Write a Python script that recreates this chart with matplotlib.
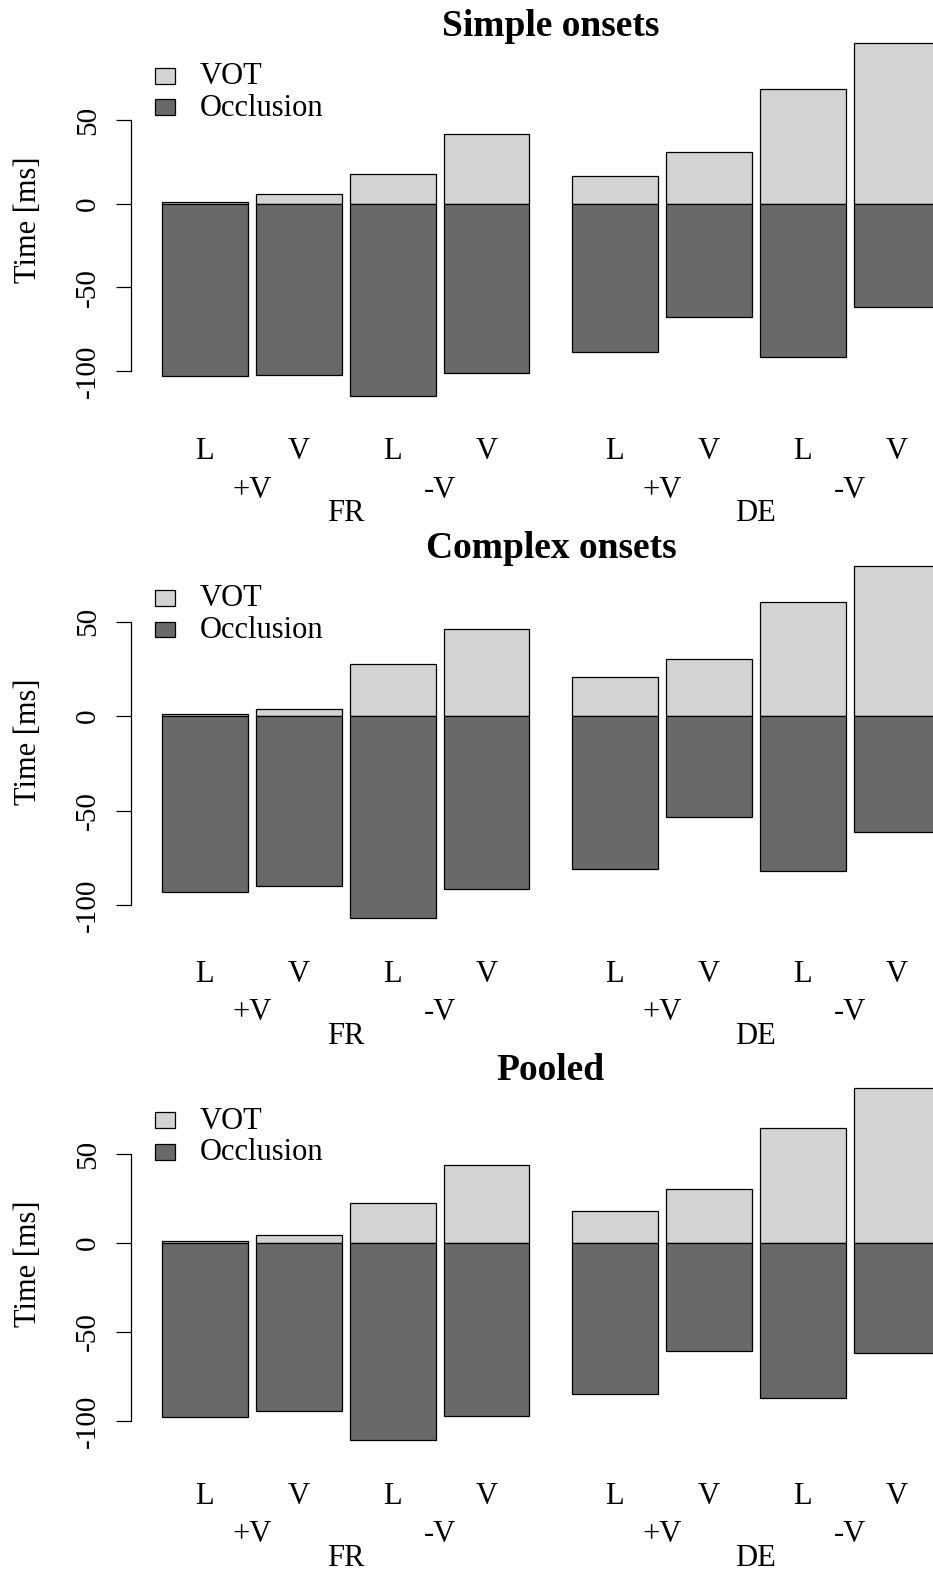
import matplotlib.pyplot as plt
import matplotlib.transforms as mtransforms
from matplotlib.patches import Rectangle

plt.rcParams["font.family"] = ["Liberation Serif", "DejaVu Serif"]

# values (ms)
titles = ["Simple onsets", "Complex onsets", "Pooled"]
bar_labels = ["L", "V", "L", "V", "L", "V", "L", "V"]
voicing_labels = ["+V", "-V", "+V", "-V"]
language_labels = ["FR", "DE"]

vot_simple = [1.0, 5.6, 17.9, 41.7, 16.4, 30.7, 68.4, 95.9]
occ_simple = [-103.0, -102.4, -114.9, -101.4, -88.8, -67.7, -91.6, -61.9]
vot_complex = [1.2, 3.7, 27.9, 46.4, 20.5, 30.4, 60.7, 79.8]
occ_complex = [-93.3, -89.8, -106.9, -91.5, -80.9, -53.5, -81.8, -61.5]
vot_pooled = [1.0, 4.7, 22.7, 44.1, 18.2, 30.6, 64.7, 87.4]
occ_pooled = [-97.9, -94.7, -110.9, -97.0, -84.8, -60.8, -87.1, -61.7]

panels = [(vot_simple, occ_simple), (vot_complex, occ_complex), (vot_pooled, occ_pooled)]

# bar layout like R barplot(space=c(0.1, 0.1, 0.1, 0.1, 0.5, 0.1, 0.1, 0.1))
spaces = [0.1, 0.1, 0.1, 0.1, 0.5, 0.1, 0.1, 0.1]
lefts = []
pos = 0.0
for s in spaces:
    pos += s
    lefts.append(pos)
    pos += 1.0
centers = [l + 0.5 for l in lefts]

W, H = 933, 1570
PANEL = 522.2
TOP, BOT = 29.2, 410.0
X0, X1 = 131.0, 970.7

VOT_COL = "#D3D3D3"
OCC_COL = "#696969"
FS = 22
TICK_FS = 21

fig = plt.figure(figsize=(W / 100, H / 100), dpi=100)

for k, (vot, occ) in enumerate(panels):
    top = k * PANEL + TOP
    bot = k * PANEL + BOT
    ax = fig.add_axes([X0 / W, 1 - bot / H, (X1 - X0) / W, (bot - top) / H])

    ax.bar(centers, vot, width=1.0, color=VOT_COL, edgecolor="black", linewidth=0.9)
    ax.bar(centers, occ, width=1.0, color=OCC_COL, edgecolor="black", linewidth=0.9)

    lo, hi = min(occ), max(vot)
    pad = 0.04 * (hi - lo)
    ax.set_ylim(lo - pad, hi + pad)
    xpad = 0.04 * (lefts[-1] + 1 - lefts[0])
    ax.set_xlim(lefts[0] - xpad, lefts[-1] + 1 + xpad)

    for side in ["top", "right", "bottom"]:
        ax.spines[side].set_visible(False)
    ax.spines["left"].set_bounds(-100, 50)
    ax.spines["left"].set_linewidth(0.9)
    ax.set_xticks([])
    ax.set_yticks([-100, -50, 0, 50])
    ax.set_yticklabels(["-100", "-50", "0", "50"])
    ax.tick_params(axis="y", length=15 / 100 * 72, width=0.9, pad=11, labelsize=TICK_FS)
    for lab in ax.get_yticklabels():
        lab.set_rotation(90)
        lab.set_va("center")

    h = bot - top

    def ay(px):
        return (BOT - px) / h

    ax.text(0.5, ay(36), titles[k], transform=ax.transAxes, ha="center",
            va="baseline", fontsize=27, fontweight="bold")

    ax.set_ylabel("Time [ms]", fontsize=FS, va="center")
    ax.yaxis.set_label_coords((28 - X0) / (X1 - X0), 0.5)

    tr = mtransforms.blended_transform_factory(ax.transData, ax.transAxes)
    for c, lab in zip(centers, bar_labels):
        ax.text(c, ay(459.3), lab, transform=tr, ha="center", va="baseline", fontsize=FS)
    for i, lab in enumerate(voicing_labels):
        c = (centers[2 * i] + centers[2 * i + 1]) / 2
        ax.text(c, ay(498), lab, transform=tr, ha="center", va="baseline", fontsize=FS)
    for i, lab in enumerate(language_labels):
        c = (centers[4 * i] + centers[4 * i + 3]) / 2
        ax.text(c, ay(521.3), lab, transform=tr, ha="center", va="baseline", fontsize=FS)

    # legend, drawn by hand like R's legend(bty="n")
    for (yc, col, name) in [(75.7, VOT_COL, "VOT"), (107.3, OCC_COL, "Occlusion")]:
        ax.add_patch(Rectangle(((155 - X0) / (X1 - X0), ay(yc + 7.8)),
                               20 / (X1 - X0), 15.6 / h, transform=ax.transAxes,
                               facecolor=col, edgecolor="black", linewidth=0.9,
                               clip_on=False))
        ax.text((199.5 - X0) / (X1 - X0), ay(yc + 8.5), name, transform=ax.transAxes,
                ha="left", va="baseline", fontsize=FS)

fig.savefig("out.png", dpi=100)
